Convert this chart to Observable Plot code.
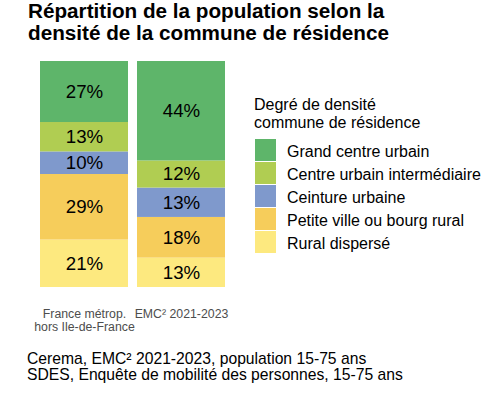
<!DOCTYPE html>
<html>
<head>
<meta charset="utf-8">
<script src="https://cdn.jsdelivr.net/npm/d3@7"></script>
<script src="https://cdn.jsdelivr.net/npm/@observablehq/plot@0.6"></script>
<style>
  html, body { margin: 0; padding: 0; background: #fff; }
  body { font-family: "Liberation Sans", Arial, sans-serif; }
  #wrap { position: relative; width: 501px; height: 394px; overflow: hidden; }
  #wrap svg { position: absolute; left: 0; top: 0; }
  .abs { position: absolute; white-space: nowrap; color: #000; }
  #title { left: 28px; top: 0px; font-size: 20.7px; font-weight: bold; line-height: 22px; }
  #caption { left: 27px; top: 351px; font-size: 15.7px; line-height: 16px; }
  #legtitle { left: 254px; top: 96px; font-size: 16px; line-height: 18px; }
  #legend { left: 255px; top: 139px; font-size: 16px; }
  .row { display: flex; height: 23px; align-items: stretch; }
  .sw { width: 21px; height: 22px; margin-bottom: 1px; }
  .lab { margin-left: 11px; line-height: 23px; padding-top: 1px; }
</style>
</head>
<body>
<div id="wrap"></div>
<script>
const categories = ["France métrop.\nhors Ile-de-France", "EMC² 2021-2023"];
const degrees = ["Rural dispersé", "Petite ville ou bourg rural", "Ceinture urbaine", "Centre urbain intermédiaire", "Grand centre urbain"];
const colors = ["#fde97f", "#f6cd5b", "#7f99cc", "#b0cd52", "#5eb56a"];
const franceValues = [21, 29, 10, 13, 27];
const emcValues = [13, 18, 13, 12, 44];

const data = [];
degrees.forEach((d, i) => data.push({cat: categories[0], deg: d, value: franceValues[i]}));
degrees.forEach((d, i) => data.push({cat: categories[1], deg: d, value: emcValues[i]}));

const chart = Plot.plot({
  width: 501,
  height: 394,
  marginTop: 61,
  marginBottom: 107,
  marginLeft: 40,
  marginRight: 276,
  style: {fontFamily: "Liberation Sans, Arial, sans-serif", background: "transparent"},
  x: {domain: categories, paddingInner: 0.093, paddingOuter: 0, label: null},
  y: {domain: [0, 100], axis: null},
  color: {domain: degrees, range: colors},
  marks: [
    Plot.barY(data, {x: "cat", y: "value", fill: "deg", order: degrees}),
    Plot.text(data, Plot.stackY({x: "cat", y: "value", z: "deg", order: degrees, text: d => d.value + "%", fontSize: 18.7, fill: "#000"})),
    Plot.axisX({tickSize: 0, tickPadding: 22, fontSize: 12.3, lineHeight: 1.02, color: "#4d4d4d", label: null})
  ]
});

const wrap = document.getElementById("wrap");
wrap.appendChild(chart);

const title = document.createElement("div");
title.className = "abs"; title.id = "title";
title.innerHTML = "Répartition de la population selon la<br>densité de la commune de résidence";
wrap.appendChild(title);

const legTitle = document.createElement("div");
legTitle.className = "abs"; legTitle.id = "legtitle";
legTitle.innerHTML = "Degré de densité<br>commune de résidence";
wrap.appendChild(legTitle);

const legend = document.createElement("div");
legend.className = "abs"; legend.id = "legend";
degrees.slice().reverse().forEach((d) => {
  const row = document.createElement("div"); row.className = "row";
  const sw = document.createElement("div"); sw.className = "sw";
  sw.style.background = colors[degrees.indexOf(d)];
  const lab = document.createElement("div"); lab.className = "lab"; lab.textContent = d;
  row.appendChild(sw); row.appendChild(lab);
  legend.appendChild(row);
});
wrap.appendChild(legend);

const caption = document.createElement("div");
caption.className = "abs"; caption.id = "caption";
caption.innerHTML = "Cerema, EMC² 2021-2023, population 15-75 ans<br>SDES, Enquête de mobilité des personnes, 15-75 ans";
wrap.appendChild(caption);
</script>
</body>
</html>
